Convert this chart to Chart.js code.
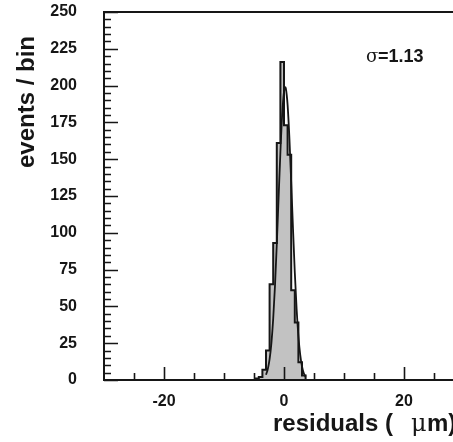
<!DOCTYPE html>
<html>
<head>
<meta charset="utf-8">
<script src="https://cdn.jsdelivr.net/npm/chart.js@4/dist/chart.umd.min.js"></script>
<style>
  html, body { margin: 0; padding: 0; background: #fff; overflow: hidden; }
  #wrap { position: relative; width: 470px; height: 442px; }
</style>
</head>
<body>
<div id="wrap"><canvas id="resChart"></canvas></div>
<script>
(function () {
  "use strict";

  // histogram bins (residuals in um), left edges + final right edge
  const binEdges = [-4.8, -4.2, -3.6, -3.0, -2.4, -1.8, -1.2, -0.6, 0, 0.6, 1.2, 1.8, 2.4, 3.0, 3.6, 4.2, 4.8];
  // events per bin (last value closes the outline)
  const binCounts = [0, 1, 2, 7, 20, 65, 93, 161, 216, 173, 153, 61, 39, 12, 3, 0, 0];

  // gaussian fit curve
  const fitX = [-3.0, -2.7, -2.4, -2.1, -1.8, -1.5, -1.2, -0.9, -0.6, -0.3, 0, 0.2, 0.3, 0.6, 0.9, 1.2, 1.5, 1.8, 2.1, 2.4, 2.7, 3.0, 3.3, 3.6];
  const fitY = [3.6, 7.4, 14.1, 25.1, 41.6, 64.2, 92.4, 123.9, 154.9, 180.5, 195.9, 199, 198.2, 186.9, 164.3, 134.5, 102.7, 73.0, 48.4, 29.9, 17.2, 9.2, 4.6, 2.2];

  // axis ticks
  const xLabels = [-20, 0, 20];
  const xMinor = [-25, -15, -10, -5, 5, 10, 15, 25];
  const yLabels = [0, 25, 50, 75, 100, 125, 150, 175, 200, 225, 250];

  const sigmaText = '=1.13';
  const ink = '#161616';
  const fillGrey = '#c2c2c2';
  const font = '"Liberation Sans", Arial, Helvetica, sans-serif';

  const histPoints = binEdges.map((e, i) => ({ x: e, y: binCounts[i] }));
  const fitPoints = fitX.map((v, i) => ({ x: v, y: fitY[i] }));

  // no extra room around the scales, the chart area is set by hand
  function noPad(s) {
    s.paddingTop = 0;
    s.paddingBottom = 0;
    s.paddingLeft = 0;
    s.paddingRight = 0;
  }

  // frame, inward ticks and the free text
  const decorations = {
    id: 'decorations',
    afterDraw(chart) {
      const ctx = chart.ctx;
      const a = chart.chartArea;
      const xs = chart.scales.x;
      const ys = chart.scales.y;
      ctx.save();
      ctx.strokeStyle = ink;
      ctx.lineWidth = 1.6;
      ctx.beginPath();
      // y ticks: major each 25, minor each 5
      for (let v = 0; v <= 250; v += 5) {
        const py = Math.round(ys.getPixelForValue(v)) + 0.5;
        const len = (v % 25 === 0) ? 14 : 7;
        ctx.moveTo(a.left, py);
        ctx.lineTo(a.left + len, py);
      }
      xLabels.forEach(v => {
        const px = Math.round(xs.getPixelForValue(v)) + 0.5;
        ctx.moveTo(px, a.bottom);
        ctx.lineTo(px, a.bottom - 13);
      });
      xMinor.forEach(v => {
        const px = Math.round(xs.getPixelForValue(v)) + 0.5;
        ctx.moveTo(px, a.bottom);
        ctx.lineTo(px, a.bottom - 7);
      });
      ctx.stroke();

      // frame
      ctx.lineWidth = 2;
      ctx.strokeRect(a.left, a.top, a.right - a.left, a.bottom - a.top);

      // axis titles
      ctx.fillStyle = ink;
      ctx.textBaseline = 'alphabetic';
      ctx.textAlign = 'left';
      ctx.font = 'bold 24px ' + font;
      ctx.fillText('residuals (', 273, 431);
      ctx.font = '24px "DejaVu Serif", serif';
      ctx.fillText('\u03bc', 411, 431);
      ctx.font = 'bold 24px ' + font;
      ctx.fillText('m)', 427, 431);

      ctx.save();
      ctx.translate(34, 168);
      ctx.rotate(-Math.PI / 2);
      ctx.font = 'bold 24px ' + font;
      ctx.fillText('events / bin', 0, 0);
      ctx.restore();

      // sigma of the fit
      ctx.font = '18px "DejaVu Serif", serif';
      ctx.fillText('\u03c3', 366, 62);
      ctx.font = 'bold 18px ' + font;
      ctx.fillText(sigmaText, 378, 62);
      ctx.restore();
    }
  };

  const cv = document.getElementById('resChart');
  new Chart(cv.getContext('2d'), {
    type: 'line',
    data: {
      datasets: [{
        label: 'fit',
        data: fitPoints,
        borderColor: ink,
        borderWidth: 1.8,
        pointRadius: 0,
        fill: false,
        cubicInterpolationMode: 'monotone',
        order: 0
      }, {
        label: 'residuals',
        data: histPoints,
        stepped: 'after',
        borderColor: ink,
        borderWidth: 2,
        backgroundColor: fillGrey,
        pointRadius: 0,
        fill: 'origin',
        order: 1
      }]
    },
    options: {
      responsive: true,
      maintainAspectRatio: false,
      animation: false,
      layout: { padding: { left: 0, top: 12, right: 6, bottom: 0 } },
      plugins: {
        legend: { display: false },
        tooltip: { enabled: false }
      },
      scales: {
        x: {
          type: 'linear',
          min: -30,
          max: 30,
          afterBuildTicks: (s) => { s.ticks = xLabels.map(v => ({ value: v })); },
          afterFit: (s) => { s.height = 62; noPad(s); },
          grid: { display: false, drawTicks: false },
          border: { display: true, color: ink, width: 2 },
          ticks: {
            color: ink,
            padding: 12,
            maxRotation: 0,
            font: { family: font, size: 16, weight: 'bold' }
          }
        },
        y: {
          type: 'linear',
          min: 0,
          max: 250,
          afterBuildTicks: (s) => { s.ticks = yLabels.map(v => ({ value: v })); },
          afterFit: (s) => { s.width = 104; noPad(s); },
          grid: { display: false, drawTicks: false },
          border: { display: true, color: ink, width: 2 },
          ticks: {
            color: ink,
            padding: 27,
            font: { family: font, size: 16, weight: 'bold' }
          }
        }
      }
    },
    plugins: [decorations]
  });
})();
</script>
</body>
</html>
